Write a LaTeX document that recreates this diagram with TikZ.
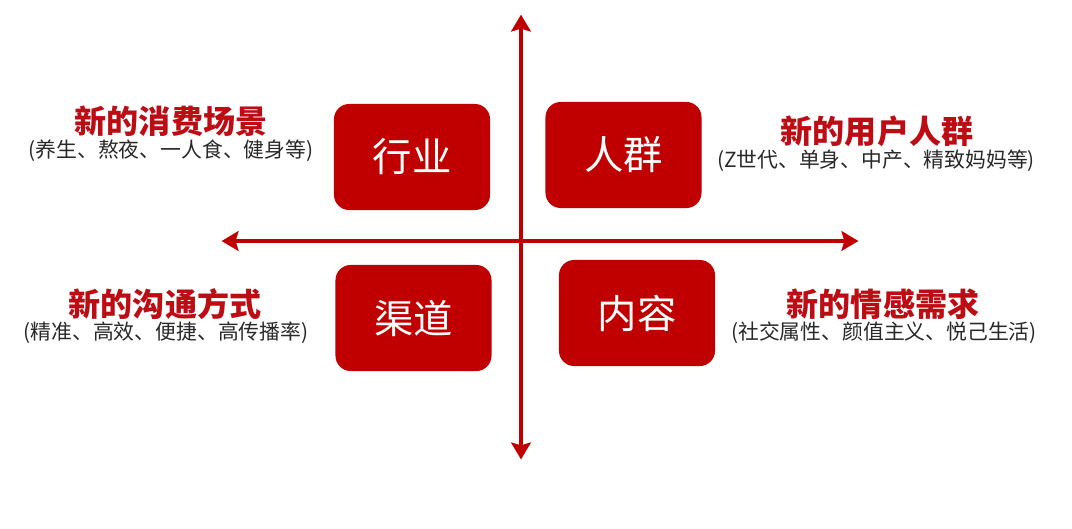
\documentclass[tikz,border=0pt]{standalone}
\usepackage{fontspec}
\newfontfamily\cjk{Noto Sans CJK SC}
\usepackage{xcolor}
\usetikzlibrary{arrows.meta}
\definecolor{boxred}{RGB}{192,0,0}
\definecolor{headred}{RGB}{188,12,20}
\definecolor{notegray}{RGB}{40,40,40}

\begin{document}
\begin{tikzpicture}[
  x=0.025cm, y=-0.025cm,
  quad/.style={fill=boxred, rounded corners=0.38cm, minimum width=3.9cm, minimum height=2.65cm, text=white, inner sep=0pt, font=\cjk\fontsize{28}{32}\selectfont},
  heading/.style={text=headred, inner sep=0pt, font=\cjk\bfseries\fontsize{22.8}{26}\selectfont},
  note/.style={text=notegray, inner sep=0pt, font=\cjk\fontsize{14.8}{17}\selectfont},
  axis/.style={{Stealth[length=12pt, width=14pt, inset=2pt]}-{Stealth[length=12pt, width=14pt, inset=2pt]}, line width=3pt, draw=boxred, shorten <=-1pt, shorten >=-1pt}
]
\useasboundingbox (0,0) rectangle (1072,528);

% axes
\coordinate (ytop) at (521,16);
\coordinate (ybot) at (521,458);
\coordinate (xleft) at (223,241);
\coordinate (xright) at (857,241);
\draw[axis] (xleft) -- (xright);
\draw[axis] (ytop) -- (ybot);

% quadrants
\node[quad] (hangye) at (412,157) {行业};
\node[quad] (renqun) at (623.5,155) {人群};
\node[quad] (qudao) at (413.5,318) {渠道};
\node[quad] (neirong) at (637,313) {内容};

% labels
\node[heading] (xiaofei) at (171,121) {新的消费场景};
\node[note] (xiaofeinote) at (171,151) {(养生、熬夜、一人食、健身等)};
\node[heading] (yonghu) at (877,131) {新的用户人群};
\node[note] (yonghunote) at (876,161) {(Z世代、单身、中产、精致妈妈等)};
\node[heading] (goutong) at (165,304) {新的沟通方式};
\node[note] (goutongnote) at (166,333) {(精准、高效、便捷、高传播率)};
\node[heading] (qinggan) at (883,304) {新的情感需求};
\node[note] (qinggannote) at (884,333) {(社交属性、颜值主义、悦己生活)};
\end{tikzpicture}
\end{document}
